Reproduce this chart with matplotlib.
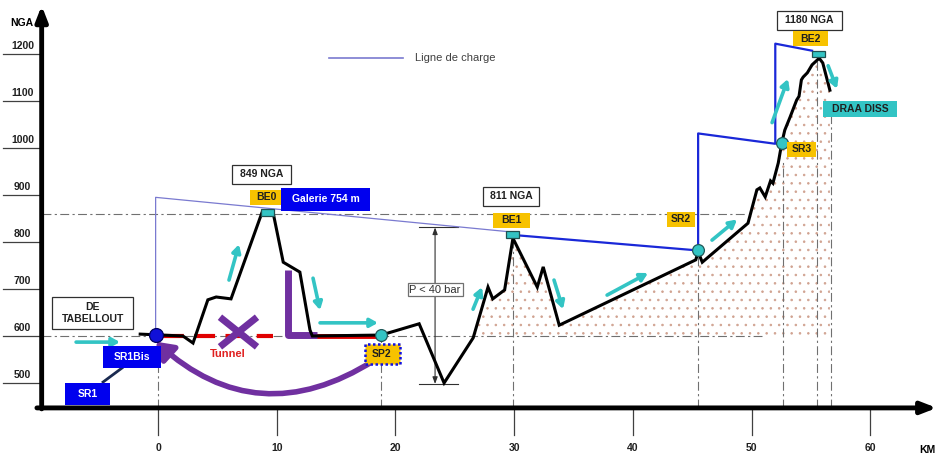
import matplotlib.pyplot as plt
from matplotlib.patches import Rectangle, FancyArrowPatch
import numpy as np

plt.rcParams['font.family'] = ['Liberation Sans', 'DejaVu Sans']
plt.rcParams['hatch.linewidth'] = 0.6

# profil en long du terrain (km, NGA)
profil_km = np.array([-1.5, 2.1, 2.95, 4.2, 4.9, 6.15, 8.75, 9.7, 10.55, 11.95, 12.8, 13.0,
                      18.8, 22.0, 24.1, 26.55, 27.8, 28.2, 29.2, 29.9, 31.95, 32.45, 33.8,
                      45.3, 45.5, 45.85, 49.7, 50.45, 50.7, 51.15, 51.6, 51.8, 52.25, 52.55,
                      52.8, 53.25, 53.8, 54.0, 54.2, 54.35, 54.7, 55.1, 55.7, 56.0, 56.6])
profil_nga = np.array([604, 600, 585, 677, 683, 679, 862, 862, 757, 736, 613, 600,
                       602, 626, 500, 596, 704, 679, 698, 808, 704, 747, 623,
                       762, 779, 757, 840, 911, 915, 896, 930, 925, 968, 1011,
                       1038, 1066, 1102, 1110, 1145, 1151, 1160, 1177, 1191, 1181, 1123])

# ligne de charge
charge0_km = [-0.2, -0.2, 29.9]
charge0_nga = [600, 895, 821]
charge_km = [29.9, 45.5, 45.5, 52.0, 52.0, 55.1]
charge_nga = [815, 782, 1031, 1009, 1222, 1207]

y_ticks = [500, 600, 700, 800, 900, 1000, 1100, 1200]
x_ticks = [0, 10, 20, 30, 40, 50, 60]

# ouvrages
reservoirs_km = [18.8, 45.5, 52.55]
reservoirs_nga = [602, 782, 1011]
bassins_km = [9.25, 29.85, 55.65]
bassins_nga = [862, 815, 1200]

# fleches d'ecoulement (depart km, depart NGA, arrivee km, arrivee NGA)
fleches = [(-6.9, 587, -3.2, 587), (5.98, 719, 6.82, 795), (13.06, 723, 13.65, 655),
           (13.65, 628, 18.53, 628), (26.54, 657, 27.3, 704), (33.36, 719, 34.12, 657),
           (37.83, 687, 41.28, 734), (46.67, 804, 48.78, 848), (51.73, 1054, 53.07, 1147),
           (56.45, 1175, 57.2, 1126)]

BASE = 447
KPX = 1 / 11.87
NPX = 1 / 0.4714
CYAN = '#33c4c4'
YEL = '#f7c200'
BLUE = '#0000ee'
PURP = '#7030a0'
GRID = dict(color='#707070', lw=0.8, ls=(0, (8, 3, 2, 3)))

fig = plt.figure(figsize=(9.41, 4.59), dpi=100)
ax = fig.add_axes([0, 0, 1, 1])
ax.set_xlim(-13.31, 65.96)
ax.set_ylim(338.3, 1314.9)
ax.axis('off')

# remplissage pointille sous le profil
m = profil_km >= 26.55
ax.fill_between(profil_km[m], 600, np.maximum(profil_nga[m], 600), facecolor='none',
                edgecolor='#d0a290', hatch='..', linewidth=0)

# lignes de rappel
ax.plot([-9.8, 50.9], [600, 600], **GRID)
ax.plot([-9.8, 49.6], [859, 859], **GRID)
for xk, top in [(0, 600), (18.8, 602), (29.9, 808), (45.5, 782), (52.65, 975),
                (55.55, 1190), (56.7, 1070)]:
    ax.plot([xk, xk], [BASE, top], **GRID)

# axes
ax.annotate('', xy=(65.6, BASE), xytext=(-10.2, BASE),
            arrowprops=dict(arrowstyle='-|>,head_length=0.9,head_width=0.35', lw=3.5,
                            color='black', shrinkA=0, shrinkB=0))
ax.annotate('', xy=(-9.8, 1303), xytext=(-9.8, BASE - 2),
            arrowprops=dict(arrowstyle='-|>,head_length=0.9,head_width=0.35', lw=3.5,
                            color='black', shrinkA=0, shrinkB=0))
for v in y_ticks:
    ax.plot([-13.05, -9.8], [v, v], color='#404040', lw=0.9)
    ax.text(-11.4, v + 17, str(v), ha='center', va='center', fontsize=7.5,
            fontweight='bold', color='#202020')
for k in x_ticks:
    ax.plot([k, k], [BASE, 390], color='#404040', lw=0.9)
    ax.text(k, 362, str(k), ha='center', va='center', fontsize=7.5,
            fontweight='bold', color='#202020')
ax.text(-11.45, 1266, 'NGA', ha='center', va='center', fontsize=7.5, fontweight='bold')
ax.text(64.8, 358, 'KM', ha='center', va='center', fontsize=7.5, fontweight='bold')

# tunnel
ax.plot([0.4, 9.7], [600, 600], color='#e00000', lw=3, ls=(0, (5, 2.5)))
ax.plot([13.4, 18.8], [601, 601], color='#e00000', lw=3.5)
ax.text(5.9, 562, 'Tunnel', ha='center', va='center', fontsize=8, fontweight='bold',
        color='#e02020')
ax.plot([5.22, 8.34], [640, 577], color=PURP, lw=5, solid_capstyle='butt')
ax.plot([5.22, 8.34], [577, 640], color=PURP, lw=5, solid_capstyle='butt')
ax.plot([10.95, 10.95, 13.4], [740, 602, 602], color=PURP, lw=5, solid_capstyle='butt')

# profil
ax.plot(profil_km, profil_nga, color='black', lw=2.2, solid_joinstyle='miter', zorder=4)

# ligne de charge
ax.plot(charge0_km, charge0_nga, color='#7a7ad0', lw=0.9, zorder=3)
ax.plot(charge_km, charge_nga, color='#1a28d8', lw=1.6, zorder=3)
ax.plot([14.4, 20.64], [1192, 1192], color='#7a7ad0', lw=1.2)
ax.text(21.65, 1192, 'Ligne de charge', ha='left', va='center', fontsize=8, color='#404040')

# pression
ax.annotate('', xy=(23.34, 831), xytext=(23.34, 498),
            arrowprops=dict(arrowstyle='<|-|>,head_length=0.4,head_width=0.15', lw=0.8,
                            color='#303030', shrinkA=0, shrinkB=0))
ax.plot([22.0, 25.3], [831, 831], color='#303030', lw=0.8)
ax.plot([22.0, 25.3], [498, 498], color='#303030', lw=0.8)

# fleches cyan
for x0, y0, x1, y1 in fleches:
    ax.annotate('', xy=(x1, y1), xytext=(x0, y0), zorder=5,
                arrowprops=dict(arrowstyle='-|>,head_length=0.45,head_width=0.25', lw=2.6,
                                color=CYAN, shrinkA=0, shrinkB=0))

# fleche courbe
arc = FancyArrowPatch((18.2, 548), (-0.2, 588), connectionstyle='arc3,rad=-0.38',
                      arrowstyle='-|>,head_length=10,head_width=6.5', lw=4, color=PURP,
                      shrinkA=0, shrinkB=0, zorder=5)
ax.add_patch(arc)


def boite(cx, cy, wpx, hpx, txt, fc, ec='none', tc='#202020', ls='-', lw=0.9,
          weight='bold', fs=7.5):
    w, h = wpx * KPX, hpx * NPX
    ax.add_patch(Rectangle((cx - w / 2, cy - h / 2), w, h, facecolor=fc, edgecolor=ec,
                           lw=lw, ls=ls, zorder=6))
    ax.text(cx, cy, txt, ha='center', va='center', fontsize=fs, fontweight=weight,
            color=tc, zorder=7, linespacing=1.15)


# bassins et reservoirs
for bk, bn in zip(bassins_km, bassins_nga):
    w, h = 13 * KPX, 7 * NPX
    ax.add_patch(Rectangle((bk - w / 2, bn - h / 2), w, h, facecolor=CYAN,
                           edgecolor='#205050', lw=0.9, zorder=6))
ax.plot(reservoirs_km, reservoirs_nga, 'o', ms=8.5, mfc=CYAN, mec='#205858', mew=0.9,
        zorder=6)
ax.plot([-0.2], [602], 'o', ms=10, mfc='#1010d8', mec='#000060', mew=0.9, zorder=6)

ax.plot([-4.63, -3.03], [502, 532], color='#1a2a50', lw=2)
boite(8.76, 944, 59, 19, '849 NGA', 'white', ec='#303030')
boite(9.1, 895, 32, 15, 'BE0', YEL)
boite(14.15, 891, 89, 23, 'Galerie 754 m', BLUE, tc='white')
boite(29.74, 897, 56, 19, '811 NGA', 'white', ec='#303030')
boite(29.8, 846, 37, 15, 'BE1', YEL)
boite(54.85, 1272, 65, 19, '1180 NGA', 'white', ec='#303030')
boite(55.0, 1232, 35, 15, 'BE2', YEL)
boite(59.15, 1082, 74, 16, 'DRAA DISS', CYAN)
boite(54.25, 997, 29, 15, 'SR3', YEL)
boite(44.05, 848, 28, 15, 'SR2', YEL)
boite(18.87, 562, 35, 20, 'SP2', YEL, ec='#1010e0', ls=(0, (1, 1)), lw=1.8)
boite(-5.48, 649, 81, 33, 'DE\nTABELLOUT', 'white', ec='#303030')
boite(-2.19, 555, 58, 22, 'SR1Bis', BLUE, tc='white')
boite(-5.9, 477, 45, 22, 'SR1', BLUE, tc='white')
boite(23.34, 698, 55, 13, 'P < 40 bar', 'white', ec='#707070', tc='#303030',
      weight='normal', fs=8)

fig.savefig('out.png', dpi=100)
